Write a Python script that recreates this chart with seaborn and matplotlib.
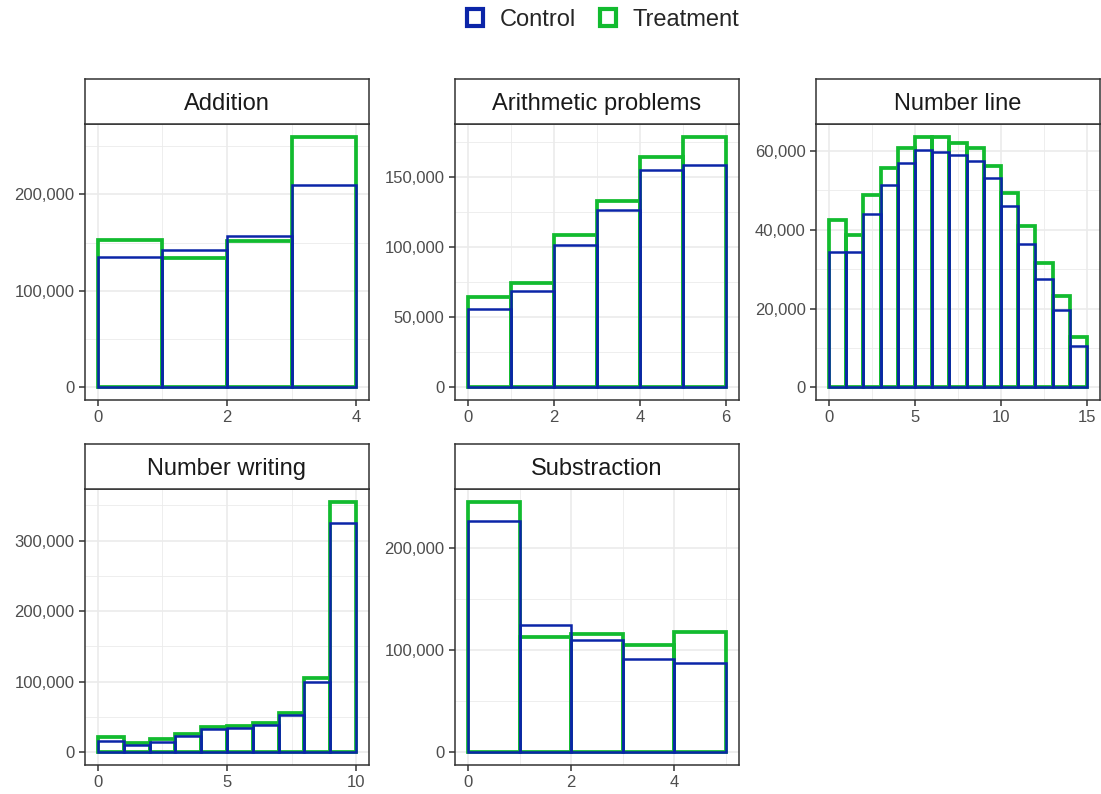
import matplotlib
matplotlib.use("Agg")
import matplotlib.pyplot as plt
from matplotlib.patches import Patch
from matplotlib.ticker import FixedLocator, FuncFormatter
import numpy as np
import pandas as pd
import seaborn as sns

# Score counts per bin (bins of width 1 starting at 0)
addition_control = [134800, 142400, 157000, 210000]
addition_treatment = [153000, 133700, 152000, 260000]

arithmetic_control = [55500, 68600, 101200, 126200, 154800, 158400]
arithmetic_treatment = [64300, 74600, 108600, 132400, 164300, 178600]

numberline_control = [34400, 34300, 43900, 51400, 56900, 60300, 59600, 58900,
                      57300, 53200, 46000, 36400, 27500, 19700, 10400]
numberline_treatment = [42400, 38700, 48900, 55600, 60700, 63600, 63400, 62000,
                        60700, 56200, 49400, 40900, 31600, 23300, 12700]

writing_control = [16500, 10800, 14600, 22600, 33000, 34400, 38200, 53300,
                   99100, 324500]
writing_treatment = [21200, 13200, 18900, 26400, 35400, 37700, 41000, 55700,
                     104700, 355200]

subtraction_control = [226800, 125000, 110300, 91700, 87400]
subtraction_treatment = [245700, 113200, 115800, 105400, 117800]

panel_titles = ["Addition", "Arithmetic problems", "Number line",
                "Number writing", "Substraction"]
groups = ["Control", "Treatment"]

panels = [
    (addition_control, addition_treatment, [0, 2, 4], [1, 3],
     [0, 100000, 200000], [50000, 150000, 250000]),
    (arithmetic_control, arithmetic_treatment, [0, 2, 4, 6], [1, 3, 5],
     [0, 50000, 100000, 150000], [25000, 75000, 125000, 175000]),
    (numberline_control, numberline_treatment, [0, 5, 10, 15], [2.5, 7.5, 12.5],
     [0, 20000, 40000, 60000], [10000, 30000, 50000]),
    (writing_control, writing_treatment, [0, 5, 10], [2.5, 7.5],
     [0, 100000, 200000, 300000], [50000, 150000, 250000, 350000]),
    (subtraction_control, subtraction_treatment, [0, 2, 4], [1, 3, 5],
     [0, 100000, 200000], [50000, 150000]),
]

sns.set_theme(style="white")
plt.rcParams["font.family"] = ["Liberation Sans", "DejaVu Sans"]

colors = {"Control": "#0B25A8", "Treatment": "#12BB2F"}
widths = {"Control": 1.8, "Treatment": 2.7}
border = "#333333"

W, H = 1101, 794
fig = plt.figure(figsize=(W / 100, H / 100), dpi=100)

col_left = [85, 455, 816]
panel_w = 284
row_top = [124, 489]
panel_h = 276
strip_h = 45


def frac_rect(left, top, width, height):
    return [left / W, 1 - (top + height) / H, width / W, height / H]


for i, (title, spec) in enumerate(zip(panel_titles, panels)):
    ctrl, treat, xmaj, xmin_, ymaj, ymin_ = spec
    r, c = divmod(i, 3)
    ax = fig.add_axes(frac_rect(col_left[c], row_top[r], panel_w, panel_h))
    n = len(ctrl)
    edges = [float(e) for e in range(n + 1)]
    centers = np.arange(n) + 0.5
    df = pd.DataFrame({
        "score": np.concatenate([centers, centers]),
        "count": np.concatenate([treat, ctrl]).astype(float),
        "group": ["Treatment"] * n + ["Control"] * n,
    })
    # Treatment outlines first, Control drawn over them
    for g in ["Treatment", "Control"]:
        sub = df[df["group"] == g]
        sns.histplot(data=sub, x="score", weights="count", bins=edges,
                     element="bars", fill=False, color=colors[g],
                     linewidth=widths[g], ax=ax)
    ymax = max(max(ctrl), max(treat))
    ax.set_xlim(-0.05 * n, n * 1.05)
    ax.set_ylim(-0.05 * ymax, ymax * 1.05)
    ax.xaxis.set_major_locator(FixedLocator(xmaj))
    ax.xaxis.set_minor_locator(FixedLocator(xmin_))
    ax.yaxis.set_major_locator(FixedLocator(ymaj))
    ax.yaxis.set_minor_locator(FixedLocator(ymin_))
    ax.yaxis.set_major_formatter(FuncFormatter(lambda v, p: f"{int(round(v)):,}"))
    ax.xaxis.set_major_formatter(FuncFormatter(lambda v, p: f"{v:g}"))
    ax.grid(which="major", color="#EBEBEB", linewidth=1.2, zorder=0)
    ax.grid(which="minor", color="#EBEBEB", linewidth=0.6, zorder=0)
    ax.set_axisbelow(True)
    ax.set_xlabel("")
    ax.set_ylabel("")
    for s in ax.spines.values():
        s.set_color(border)
        s.set_linewidth(1.1)
    ax.tick_params(axis="both", which="major", direction="out", length=4.0,
                   width=1.1, color=border, labelsize=12, labelcolor="#4D4D4D",
                   bottom=True, left=True, pad=3.5)
    ax.tick_params(axis="both", which="minor", length=0)

    sax = fig.add_axes(frac_rect(col_left[c], row_top[r] - strip_h, panel_w, strip_h))
    sax.set_facecolor("white")
    sax.set_xticks([])
    sax.set_yticks([])
    for s in sax.spines.values():
        s.set_color(border)
        s.set_linewidth(1.1)
    sax.text(0.5, 0.45, title, ha="center", va="center", fontsize=17,
             color="#1A1A1A", transform=sax.transAxes)

handles = [Patch(facecolor="white", edgecolor=colors[g], linewidth=3.0, label=g)
           for g in groups]
fig.legend(handles=handles, loc="center", bbox_to_anchor=(603 / W, 1 - 20 / H),
           ncol=2, frameon=False, fontsize=17, handlelength=0.7, handleheight=0.7,
           handletextpad=0.7, columnspacing=1.0)

fig.savefig("out.png", dpi=100)
